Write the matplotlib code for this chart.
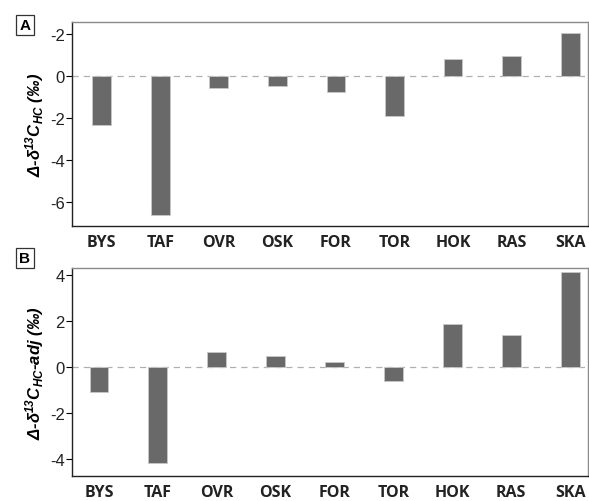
import matplotlib
matplotlib.use("Agg")
import matplotlib.pyplot as plt
import numpy as np

sites = ["BYS", "TAF", "OVR", "OSK", "FOR", "TOR", "HOK", "RAS", "SKA"]
delta_hc = [-2.33, -6.6, -0.59, -0.49, -0.76, -1.92, 0.8, 0.95, 2.03]
delta_hc_adj = [-1.1, -4.17, 0.65, 0.49, 0.22, -0.62, 1.85, 1.4, 4.1]

ticks_a = [2, 0, -2, -4, -6]
ticklabels_a = ["-2", "0", "-2", "-4", "-6"]   # as printed in the original
ticks_b = [4, 2, 0, -2, -4]
ticklabels_b = ["4", "2", "0", "-2", "-4"]

plt.rcParams['font.family'] = ['Liberation Sans', 'DejaVu Sans']
plt.rcParams['mathtext.default'] = 'regular'

fig = plt.figure(figsize=(5.89, 5.02), dpi=100)
ax_a = fig.add_axes([0.122, 0.548, 0.876, 0.406])
ax_b = fig.add_axes([0.122, 0.050, 0.876, 0.4135])


def draw_panel(ax, values, ylim, ticks, ticklabels, ylabel, xlim):
    x = np.arange(len(sites))
    ax.bar(x, values, width=0.32, color="#696969", edgecolor="#c8c8c8", linewidth=0.6, zorder=2)
    ax.axhline(0, color="#b0b0b0", linestyle=(0, (5, 4)), linewidth=0.9, zorder=1)
    ax.set_xlim(*xlim)
    ax.set_ylim(*ylim)
    ax.set_yticks(ticks)
    ax.set_yticklabels(ticklabels, fontsize=12, color="#222222")
    ax.set_xticks(x)
    ax.set_xticklabels(sites, fontsize=11.5, fontweight="bold", color="#222222",
                       family=["Open Sans", "DejaVu Sans"])
    ax.tick_params(axis="x", length=0, pad=6)
    ax.tick_params(axis="y", length=4, width=0.8, pad=1)
    for side in ["top", "right"]:
        ax.spines[side].set_color("#8a8a8a")
        ax.spines[side].set_linewidth(1.0)
    for side in ["left", "bottom"]:
        ax.spines[side].set_color("#222222")
        ax.spines[side].set_linewidth(1.0)
    ax.set_ylabel(ylabel, fontsize=12, fontweight="bold", style="italic", labelpad=3)


draw_panel(ax_a, delta_hc, (-7.14, 2.57), ticks_a, ticklabels_a,
           "Δ-δ$^{13}$C$_{HC}$ (‰)", (-0.51, 8.3))
draw_panel(ax_b, delta_hc_adj, (-4.72, 4.27), ticks_b, ticklabels_b,
           "Δ-δ$^{13}$C$_{HC}$-adj (‰)", (-0.46, 8.3))

box = dict(boxstyle="square,pad=0.2", facecolor="white", edgecolor="#333333", linewidth=0.9)
fig.text(25 / 589, 1 - 26 / 502, "A", fontsize=11, fontweight="bold", ha="center", va="center", bbox=box)
fig.text(25 / 589, 1 - 259 / 502, "B", fontsize=11, fontweight="bold", ha="center", va="center", bbox=box)

fig.savefig("out.png", dpi=100)
